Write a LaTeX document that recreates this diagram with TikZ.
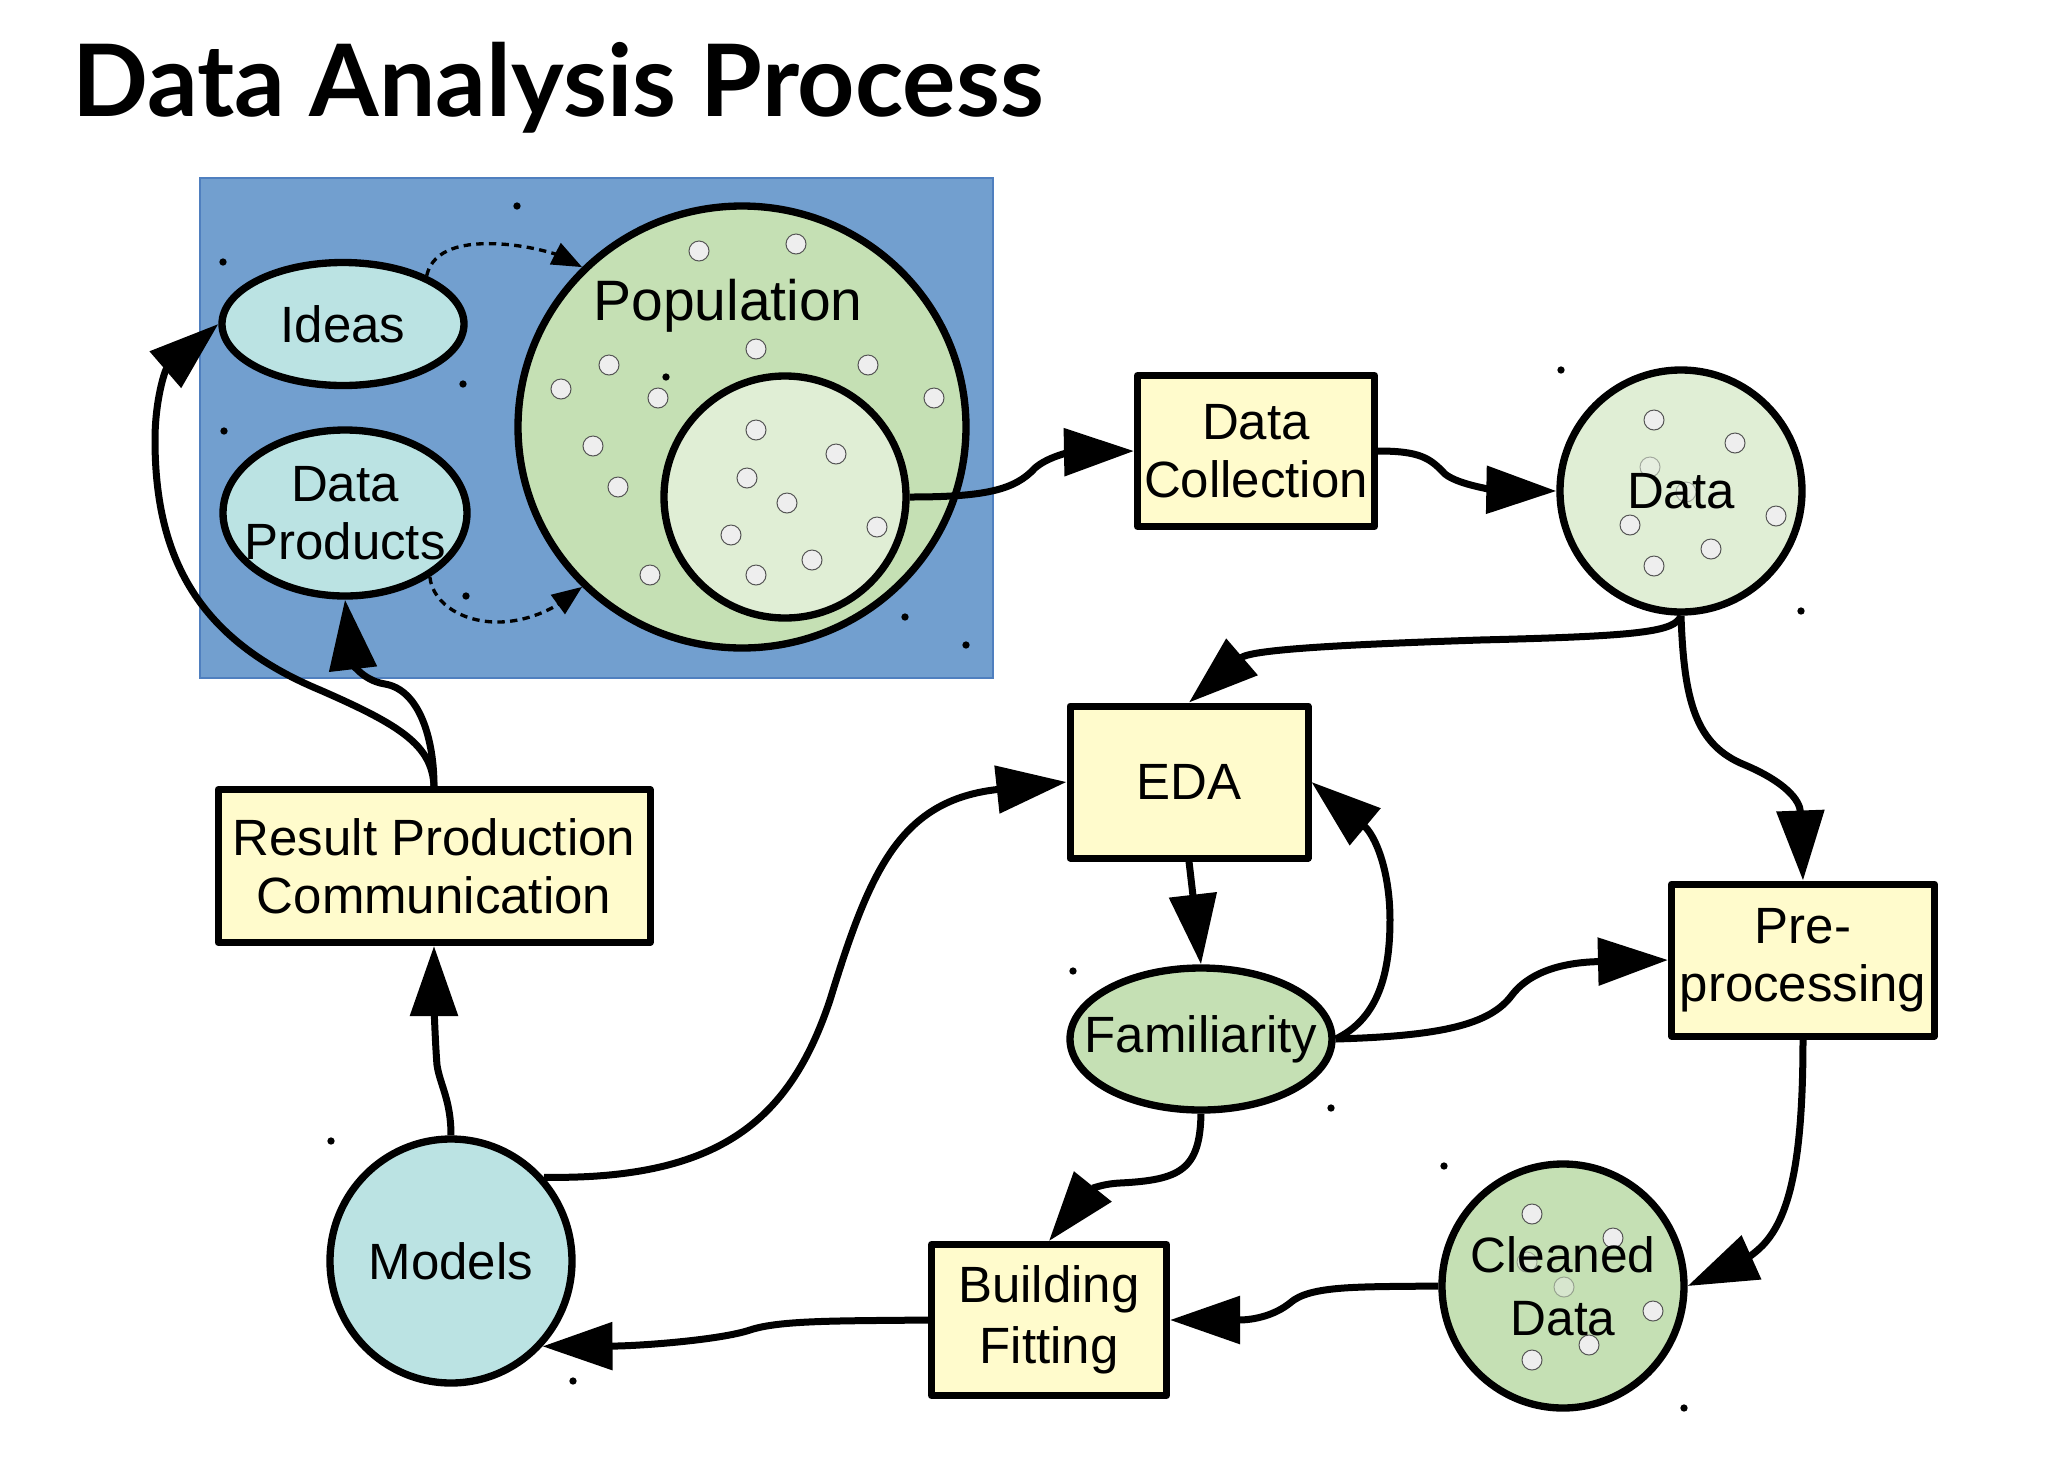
\documentclass[tikz,border=0pt]{standalone}
\usepackage{fontspec}
\setmainfont{Liberation Sans}
\newfontfamily\titlefont{Lato}
\usetikzlibrary{shapes.geometric,arrows.meta}
\definecolor{bluebg}{HTML}{729FCF}
\definecolor{bluebd}{HTML}{4F7FBF}
\definecolor{cyanfill}{HTML}{BBE3E3}
\definecolor{greenfill}{HTML}{C5E0B4}
\definecolor{lightgreen}{HTML}{E0EED5}
\definecolor{boxfill}{HTML}{FFFBCC}
\definecolor{dotfill}{HTML}{EEEEEE}
\definecolor{dotline}{HTML}{555555}
\newcommand\nfont{\fontsize{15.3pt}{17.4pt}\selectfont}
\newcommand\popfont{\fontsize{17.1pt}{19pt}\selectfont}
\begin{document}
\begin{tikzpicture}[x=0.3pt,y=-0.3pt,
  procbox/.style={rectangle,draw=black,line width=2.1pt,line join=round,fill=boxfill,align=center,inner sep=0pt,font=\nfont},
  blob/.style={ellipse,draw=black,line width=2.2pt,inner sep=0pt},
  txt/.style={align=center,inner sep=0pt,font=\nfont},
  conn/.style={line width=2.1pt,-{Triangle[length=21pt,width=14pt]}},
  dconn/.style={line width=1pt,dash pattern=on 2.2pt off 1.6pt,-{Triangle[length=9pt,width=7pt]}},
  wdot/.style={fill=dotfill,draw=dotline,line width=0.3pt},
  bdot/.style={fill=black}]
\fill[white] (0,0) rectangle (2052,1478);
\useasboundingbox (0,0) rectangle (2052,1478);
% title
\node[anchor=base west,inner sep=0pt,font=\titlefont\bfseries\fontsize{30pt}{36pt}\selectfont] (title) at (72,116) {Data Analysis Process};
% blue area
\filldraw[fill=bluebg,draw=bluebd,line width=0.4pt] (200,178) rectangle (993,678);
% population
\node[blob,fill=greenfill,minimum width=134.4pt,minimum height=132.6pt] (pop) at (742,427) {};
\node[font=\popfont,inner sep=0pt] (popt) at (728,306) {Population};
\node[blob,fill=lightgreen,minimum width=72.6pt,minimum height=72.6pt] (inner) at (785,497) {};
\foreach \x/\y in {699/251,796/244,756/349,609/365,868/365,561/389,658/398,934/398,593/446,618/487,650/575,
  756/430,836/454,747/478,787/503,877/527,731/535,812/560,756/575}
  \filldraw[wdot] (\x,\y) circle[radius=3pt];
% ideas, data products
\node[blob,fill=cyanfill,minimum width=72.6pt,minimum height=36.9pt] (ideas) at (343,324) {};
\node[txt] (ideast) at (ideas.center) {Ideas};
\node[blob,fill=cyanfill,minimum width=73.2pt,minimum height=49.8pt] (dp) at (345,513) {};
\node[txt] (dpt) at (dp.center) {Data\\Products};
% other nodes
\node[procbox,minimum width=129.6pt,minimum height=45.9pt] (res) at (434,866) {Result Production\\Communication};
\node[procbox,minimum width=71.1pt,minimum height=45.3pt] (dc) at (1256,451) {Data\\Collection};
\node[blob,fill=lightgreen,minimum width=72.6pt,minimum height=72.6pt] (data) at (1681,491) {};
\foreach \x/\y in {1654/420,1735/443,1776/516,1630/525,1711/549,1654/566}
  \filldraw[wdot] (\x,\y) circle[radius=3pt];
\foreach \x/\y in {1650/467,1686/492}
  \filldraw[wdot,opacity=0.45] (\x,\y) circle[radius=3pt];
\node[txt] (datat) at (data.center) {Data};
\node[procbox,minimum width=71.4pt,minimum height=45.6pt] (eda) at (1189,782) {EDA};
\node[procbox,minimum width=78.9pt,minimum height=45.6pt] (pre) at (1803,960) {Pre-\\processing};
\node[blob,fill=greenfill,minimum width=78.6pt,minimum height=42.6pt] (fam) at (1201,1039) {};
\node[txt] (famt) at (fam.center) {Familiarity};
\node[procbox,minimum width=70.5pt,minimum height=45.3pt] (build) at (1049,1320) {\raisebox{-1.2pt}{\shortstack{Building\\[1pt]Fitting}}};
\node[blob,fill=greenfill,minimum width=72.6pt,minimum height=73.2pt] (cd) at (1563,1286) {};
\foreach \x/\y in {1532/1214,1613/1238,1653/1311,1589/1345,1532/1360}
  \filldraw[wdot] (\x,\y) circle[radius=3pt];
\foreach \x/\y in {1527/1262,1564/1287}
  \filldraw[wdot,opacity=0.45] (\x,\y) circle[radius=3pt];
\node[txt,font=\fontsize{14.9pt}{18.9pt}\selectfont] (cdt) at (cd.center) {Cleaned\\Data};
\node[blob,fill=cyanfill,minimum width=72.6pt,minimum height=73.2pt] (models) at (451,1261) {};
\node[txt] (modelst) at (models.center) {Models};
% small black dots
\foreach \x/\y in {517/206,223/262,463/384,224/431,666/377,466/596,905/617,966/645,
  1561/370,1801/611,1444/1166,1684/1408,1331/1108,1073/971,331/1141,573/1381}
  \fill[bdot] (\x,\y) circle[radius=1.1pt];
% dashed arrows
\draw[dconn] (ideas.30) .. controls (433,248) and (465,242) .. (500,244) .. controls (535,246) and (560,256) .. (pop.135);
\draw[dconn] (dp.-37) .. controls (433,605) and (465,623) .. (500,622) .. controls (535,621) and (560,603) .. (pop.-135);
% connectors
\draw[conn] (inner.east) .. controls (985,497) and (1015,490) .. (1035,468) .. controls (1050,455) and (1075,452) .. (dc.west);
\draw[conn] (dc.east) .. controls (1420,451) and (1430,458) .. (1445,474) .. controls (1460,486) and (1500,490) .. (data.west);
\draw[conn] (data.south) .. controls (1675,632) and (1640,636) .. (1480,640) .. controls (1330,645) and (1250,650) .. (eda.north);
\draw[conn] (data.south) .. controls (1684,700) and (1695,745) .. (1745,765) .. controls (1785,782) and (1800,800) .. (pre.north);
\draw[conn] (eda.south) -- (fam.north);
\draw[conn] (fam.east) .. controls (1375,1020) and (1390,980) .. (1390,920) .. controls (1390,870) and (1375,835) .. (eda.east);
\draw[conn] (fam.east) .. controls (1440,1036) and (1490,1025) .. (1512,995) .. controls (1535,965) and (1580,962) .. (pre.west);
\draw[conn] (fam.south) .. controls (1200,1170) and (1180,1180) .. (1120,1183) .. controls (1100,1184) and (1090,1190) .. (build.north);
\draw[conn] (pre.south) .. controls (1803,1160) and (1790,1220) .. (1760,1248) .. controls (1745,1262) and (1730,1267) .. (cd.east);
\draw[conn] (cd.west) .. controls (1360,1287) and (1310,1285) .. (1290,1303) .. controls (1275,1315) and (1255,1320) .. (build.east);
\draw[conn] (build.west) .. controls (840,1321) and (780,1320) .. (750,1330) .. controls (720,1340) and (640,1346) .. (models.-43);
\draw[conn] (models.north) .. controls (451,1100) and (440,1085) .. (437,1065) .. controls (435,1040) and (434,1000) .. (res.south);
\draw[conn] (models.42) .. controls (720,1180) and (790,1120) .. (830,1000) .. controls (870,870) and (900,800) .. (eda.west);
\draw[conn] (res.north) .. controls (432,745) and (400,725) .. (320,690) .. controls (200,640) and (155,560) .. (155,440) .. controls (155,400) and (165,370) .. (ideas.west);
\draw[conn] (res.north) .. controls (434,740) and (420,690) .. (385,684) .. controls (360,680) and (352,660) .. (dp.south);
\end{tikzpicture}
\end{document}
